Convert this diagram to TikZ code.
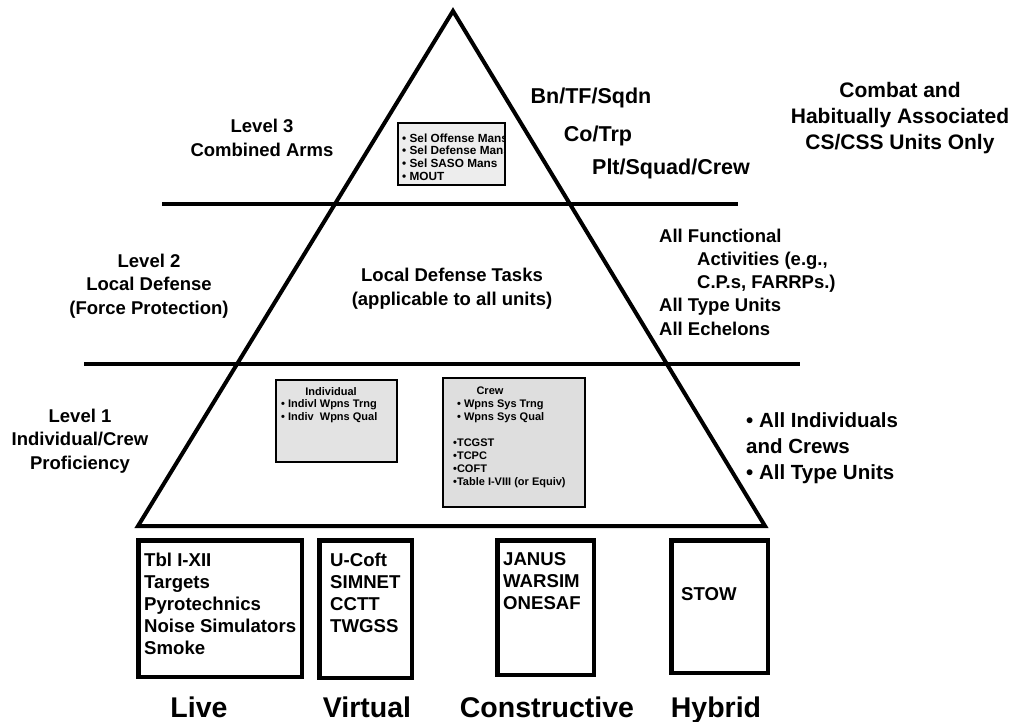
\documentclass[tikz,border=0pt]{standalone}
\usepackage{fontspec}
\setmainfont{Liberation Sans}
\begin{document}
\begin{tikzpicture}[x=1pt,y=-1pt,
  lbl/.style={font=\bfseries\fontsize{18.5}{23.5}\selectfont, align=center, inner sep=0pt},
  big/.style={font=\bfseries\fontsize{21.5}{26}\selectfont, align=center, inner sep=0pt},
  cat/.style={font=\bfseries\fontsize{28.5}{32}\selectfont, inner sep=0pt, anchor=base},
  simbox/.style={draw, line width=4.5pt, inner sep=0pt},
  boxtxt/.style={font=\bfseries\fontsize{18.6}{22}\selectfont, align=left, anchor=west, inner sep=0pt},
  tiny/.style={font=\bfseries\fontsize{11}{13}\selectfont, inner sep=0pt},
  taskbox/.style={line width=1.8pt, inner sep=0pt},
  level/.style={line width=3.8pt}]

\useasboundingbox (0,0) rectangle (1013,721);

% pyramid
\coordinate (apex) at (453,11);
\coordinate (bl) at (138,526);
\coordinate (br) at (765,526);
\draw[line width=4pt, line join=miter] (apex) -- (br) -- (bl) -- cycle;

% level separators
\coordinate (l3a) at (162,204);
\coordinate (l3b) at (738,204);
\coordinate (l2a) at (84,364);
\coordinate (l2b) at (800,364);
\draw[level] (l3a) -- (l3b);
\draw[level] (l2a) -- (l2b);

% level 3 task box
\node[taskbox, fill=gray!14, minimum width=105pt, minimum height=60pt] (sel) at (451.5,154) {};
\begin{scope}
  \clip (sel.north west) rectangle (sel.south east);
  \node[tiny, font=\bfseries\fontsize{11.8}{12.8}\selectfont, align=left, anchor=west] (seltxt) at (402,157) {• Sel Offense Mans\\• Sel Defense Mans\\• Sel SASO Mans\\• MOUT};
\end{scope}
\draw[taskbox] (sel.north west) rectangle (sel.south east);

% level 1 task boxes
\node[taskbox, draw, fill=gray!22, minimum width=121pt, minimum height=82pt] (indbox) at (336.5,421) {};
\node[tiny] (indtitle) at (331,392) {Individual};
\node[tiny, align=left, anchor=west] (indtxt) at (281,411.5) {• Indivl Wpns Trng\\• Indiv\ \ Wpns Qual};

\node[taskbox, draw, fill=gray!26, minimum width=142pt, minimum height=129pt] (crewbox) at (514,442.5) {};
\node[tiny] (crewtitle) at (490,391) {Crew};
\node[tiny, align=left, anchor=west] (crewtxt) at (457,411.5) {• Wpns Sys Trng\\• Wpns Sys Qual};
\node[tiny, align=left, anchor=west] (crewtxt2) at (453,463.5) {•TCGST\\•TCPC\\•COFT\\•Table I-VIII (or Equiv)};

% left labels
\node[lbl] (lev3) at (262,138) {Level 3\\Combined Arms};
\node[lbl] (lev2) at (149,286) {Level 2\\Local Defense\\(Force Protection)};
\node[lbl] (lev1) at (80,441) {Level 1\\Individual/Crew\\Proficiency};

% centre label
\node[lbl, font=\bfseries\fontsize{18.5}{24}\selectfont] (ldt) at (452,289) {Local Defense Tasks\\(applicable to all units)};

% right labels
\node[big] (bn) at (591,98) {Bn/TF/Sqdn};
\node[big] (co) at (598,135.5) {Co/Trp};
\node[big] (plt) at (671,169) {Plt/Squad/Crew};
\node[big, font=\bfseries\fontsize{21}{26}\selectfont] (combat) at (900,118) {Combat and\\Habitually Associated\\CS/CSS Units Only};
\node[lbl, align=left, anchor=west, font=\bfseries\fontsize{18.5}{23.25}\selectfont] (func) at (659,282) {All Functional\\\hspace{38pt}Activities (e.g.,\\\hspace{38pt}C.P.s, FARRPs.)\\All Type Units\\All Echelons};
\node[big, align=left, anchor=west, font=\bfseries\fontsize{20.5}{26}\selectfont] (allind) at (746,448) {• All Individuals\\and Crews\\• All Type Units};

% simulation boxes
\node[simbox, minimum width=163.5pt, minimum height=136.5pt] (live) at (220,608.5) {};
\node[boxtxt] (livetxt) at (144,604) {Tbl I-XII\\Targets\\Pyrotechnics\\Noise Simulators\\Smoke};
\node[simbox, minimum width=92.5pt, minimum height=137.5pt] (virtual) at (365.5,609) {};
\node[boxtxt] (virtxt) at (330,593) {U-Coft\\SIMNET\\CCTT\\TWGSS};
\node[simbox, minimum width=96.5pt, minimum height=134.5pt] (constr) at (545.5,607.5) {};
\node[boxtxt] (constxt) at (503,581.5) {JANUS\\WARSIM\\ONESAF};
\node[simbox, minimum width=96.5pt, minimum height=132.5pt] (hybrid) at (719.5,606.5) {};
\node[boxtxt] (hybtxt) at (681,594) {STOW};

% category labels
\node[cat] (catlive) at (199,717) {Live};
\node[cat] (catvirt) at (367,717) {Virtual};
\node[cat] (catcons) at (547,717) {Constructive};
\node[cat] (cathyb) at (716,717) {Hybrid};
\end{tikzpicture}
\end{document}
